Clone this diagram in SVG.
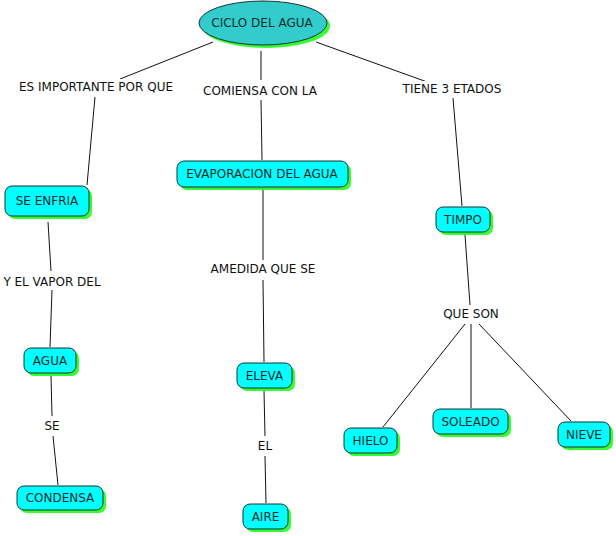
<svg xmlns="http://www.w3.org/2000/svg" width="616" height="536" viewBox="0 0 616 536">
<style>
  .sh { fill: #33ff33; }
  .box { fill: #00ffff; stroke: #1a3333; stroke-width: 1; }
  .ell { fill: #33cccc; stroke: #1a3333; stroke-width: 1; }
  .nt { font-family: "DejaVu Sans", Verdana, sans-serif; font-size: 12px; fill: #0d2b2b; text-anchor: middle; dominant-baseline: central; }
  .lt { font-family: "DejaVu Sans", Verdana, sans-serif; font-size: 12px; fill: #111; text-anchor: middle; dominant-baseline: central; }
  .c { stroke: #111; stroke-width: 1; fill: none; }
</style>
<rect width="616" height="536" fill="#fff"/>
<g id="connectors">
  <line class="c" x1="213" y1="42" x2="120" y2="79"/>
  <line class="c" x1="95" y1="97" x2="87" y2="185"/>
  <line class="c" x1="261" y1="51" x2="261" y2="80"/>
  <line class="c" x1="261" y1="100" x2="262" y2="160"/>
  <line class="c" x1="316" y1="42" x2="430" y2="83"/>
  <line class="c" x1="453" y1="98" x2="462" y2="206"/>
  <line class="c" x1="48" y1="222" x2="51" y2="271"/>
  <line class="c" x1="52" y1="290" x2="50" y2="347"/>
  <line class="c" x1="51" y1="376" x2="52" y2="416"/>
  <line class="c" x1="53" y1="436" x2="58" y2="485"/>
  <line class="c" x1="263" y1="190" x2="263" y2="260"/>
  <line class="c" x1="263" y1="280" x2="264" y2="362"/>
  <line class="c" x1="264" y1="391" x2="265" y2="436"/>
  <line class="c" x1="265" y1="456" x2="266" y2="503"/>
  <line class="c" x1="465" y1="235" x2="470" y2="305"/>
  <line class="c" x1="465" y1="324" x2="383" y2="427"/>
  <line class="c" x1="471" y1="324" x2="471" y2="408"/>
  <line class="c" x1="479" y1="324" x2="571" y2="421"/>
</g>
<g id="labels">
  <rect x="14" y="79" width="163" height="16" fill="#fff"/>
  <text class="lt" x="96" y="87">ES IMPORTANTE POR QUE</text>
  <rect x="199" y="83" width="122" height="16" fill="#fff"/>
  <text class="lt" x="260" y="91">COMIENSA CON LA</text>
  <rect x="398" y="81" width="108" height="16" fill="#fff"/>
  <text class="lt" x="452" y="89">TIENE 3 ETADOS</text>
  <rect x="0" y="273" width="104" height="16" fill="#fff"/>
  <text class="lt" x="52" y="282">Y EL VAPOR DEL</text>
  <rect x="206" y="261" width="114" height="16" fill="#fff"/>
  <text class="lt" x="263" y="269">AMEDIDA QUE SE</text>
  <rect x="40" y="418" width="24" height="16" fill="#fff"/>
  <text class="lt" x="52" y="426">SE</text>
  <rect x="254" y="438" width="22" height="16" fill="#fff"/>
  <text class="lt" x="265" y="446">EL</text>
  <rect x="440" y="306" width="62" height="16" fill="#fff"/>
  <text class="lt" x="471" y="314">QUE SON</text>
</g>
<g id="n-ciclo">
  <ellipse class="sh" cx="266" cy="26" rx="64" ry="22"/>
  <ellipse class="ell" cx="263" cy="23" rx="64" ry="22"/>
  <text class="nt" x="262" y="23">CICLO DEL AGUA</text>
</g>
<g id="n-seenfria">
  <rect class="sh" x="8" y="189" width="84" height="30" rx="7"/>
  <rect class="box" x="5" y="186" width="84" height="30" rx="7"/>
  <text class="nt" x="47" y="201">SE ENFRIA</text>
</g>
<g id="n-evaporacion">
  <rect class="sh" x="180" y="164" width="171" height="26" rx="7"/>
  <rect class="box" x="177" y="161" width="171" height="26" rx="7"/>
  <text class="nt" x="262" y="174">EVAPORACION DEL AGUA</text>
</g>
<g id="n-timpo">
  <rect class="sh" x="439" y="210" width="54" height="25" rx="7"/>
  <rect class="box" x="436" y="207" width="54" height="25" rx="7"/>
  <text class="nt" x="463" y="219.5">TIMPO</text>
</g>
<g id="n-agua">
  <rect class="sh" x="27" y="351" width="52" height="25" rx="7"/>
  <rect class="box" x="24" y="348" width="52" height="25" rx="7"/>
  <text class="nt" x="50" y="360.5">AGUA</text>
</g>
<g id="n-condensa">
  <rect class="sh" x="20" y="489" width="86" height="24" rx="7"/>
  <rect class="box" x="17" y="486" width="86" height="24" rx="7"/>
  <text class="nt" x="60" y="498">CONDENSA</text>
</g>
<g id="n-eleva">
  <rect class="sh" x="240" y="366" width="55" height="25" rx="7"/>
  <rect class="box" x="237" y="363" width="55" height="25" rx="7"/>
  <text class="nt" x="264.5" y="375.5">ELEVA</text>
</g>
<g id="n-aire">
  <rect class="sh" x="246" y="507" width="45" height="25" rx="7"/>
  <rect class="box" x="243" y="504" width="45" height="25" rx="7"/>
  <text class="nt" x="265.5" y="516.5">AIRE</text>
</g>
<g id="n-hielo">
  <rect class="sh" x="347" y="431" width="53" height="25" rx="7"/>
  <rect class="box" x="344" y="428" width="53" height="25" rx="7"/>
  <text class="nt" x="370.5" y="440.5">HIELO</text>
</g>
<g id="n-soleado">
  <rect class="sh" x="436" y="412" width="75" height="25" rx="7"/>
  <rect class="box" x="433" y="409" width="75" height="25" rx="7"/>
  <text class="nt" x="470.5" y="421.5">SOLEADO</text>
</g>
<g id="n-nieve">
  <rect class="sh" x="561" y="425" width="52" height="25" rx="7"/>
  <rect class="box" x="558" y="422" width="52" height="25" rx="7"/>
  <text class="nt" x="584" y="434.5">NIEVE</text>
</g>
</svg>
